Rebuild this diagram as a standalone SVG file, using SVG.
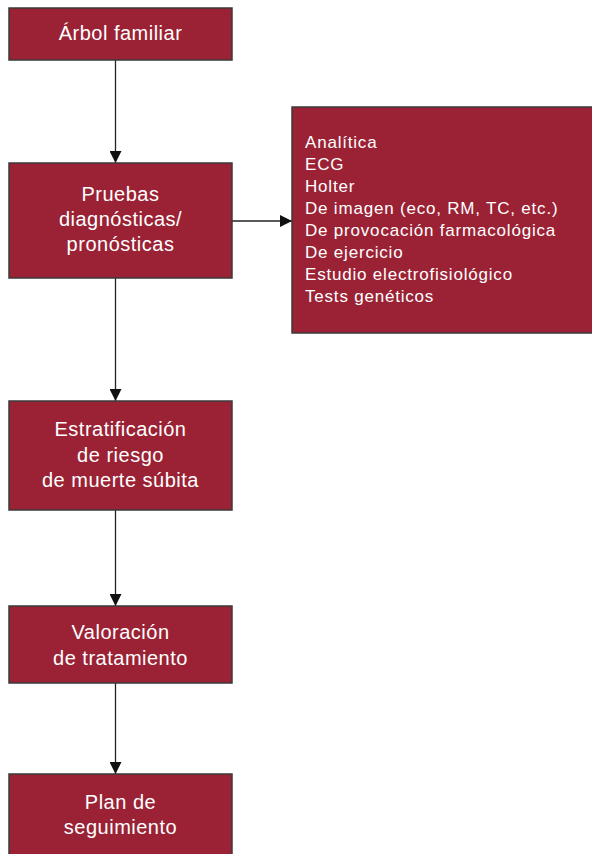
<svg xmlns="http://www.w3.org/2000/svg" width="592" height="854" viewBox="0 0 592 854">
<style>
.box{fill:#9b2235;stroke:#3a3a3a;stroke-width:1.5}
.t{font-family:"Liberation Sans",Arial,sans-serif;font-size:20px;letter-spacing:0.5px;fill:#ffffff;text-anchor:middle}
.l{font-family:"Liberation Sans",Arial,sans-serif;font-size:17px;letter-spacing:0.8px;fill:#ffffff}
.c{stroke:#222;stroke-width:1.3;fill:none}
</style>
<defs>
<marker id="a" viewBox="0 0 12 12" refX="12" refY="6" markerWidth="12" markerHeight="12" markerUnits="userSpaceOnUse" orient="auto">
<path d="M0,0 L12,6 L0,12 Z" fill="#111"/>
</marker>
</defs>
<rect width="592" height="854" fill="#ffffff"/>
<g id="connectors">
<line class="c" x1="115.5" y1="60" x2="115.5" y2="163" marker-end="url(#a)"/>
<line class="c" x1="232" y1="221" x2="292" y2="221" marker-end="url(#a)"/>
<line class="c" x1="115.5" y1="278" x2="115.5" y2="401" marker-end="url(#a)"/>
<line class="c" x1="115.5" y1="510" x2="115.5" y2="606" marker-end="url(#a)"/>
<line class="c" x1="115.5" y1="683" x2="115.5" y2="774" marker-end="url(#a)"/>
</g>
<g id="n1">
<rect class="box" x="9" y="8" width="223" height="52"/>
<text class="t" x="120.5" y="40">Árbol familiar</text>
</g>
<g id="n2">
<rect class="box" x="9" y="163" width="223" height="115"/>
<text class="t" x="120.5" y="201">Pruebas</text>
<text class="t" x="120.5" y="226">diagnósticas/</text>
<text class="t" x="120.5" y="251">pronósticas</text>
</g>
<g id="n3">
<rect class="box" x="292" y="107" width="302" height="226"/>
<text class="l" x="305" y="148">Analítica</text>
<text class="l" x="305" y="170">ECG</text>
<text class="l" x="305" y="192">Holter</text>
<text class="l" x="305" y="214">De imagen (eco, RM, TC, etc.)</text>
<text class="l" x="305" y="236">De provocación farmacológica</text>
<text class="l" x="305" y="258">De ejercicio</text>
<text class="l" x="305" y="280">Estudio electrofisiológico</text>
<text class="l" x="305" y="302">Tests genéticos</text>
</g>
<g id="n4">
<rect class="box" x="9" y="401" width="223" height="109"/>
<text class="t" x="120.5" y="436">Estratificación</text>
<text class="t" x="120.5" y="462">de riesgo</text>
<text class="t" x="120.5" y="487">de muerte súbita</text>
</g>
<g id="n5">
<rect class="box" x="9" y="606" width="223" height="77"/>
<text class="t" x="120.5" y="639">Valoración</text>
<text class="t" x="120.5" y="665">de tratamiento</text>
</g>
<g id="n6">
<rect class="box" x="9" y="774" width="223" height="90"/>
<text class="t" x="120.5" y="809">Plan de</text>
<text class="t" x="120.5" y="834">seguimiento</text>
</g>
</svg>
